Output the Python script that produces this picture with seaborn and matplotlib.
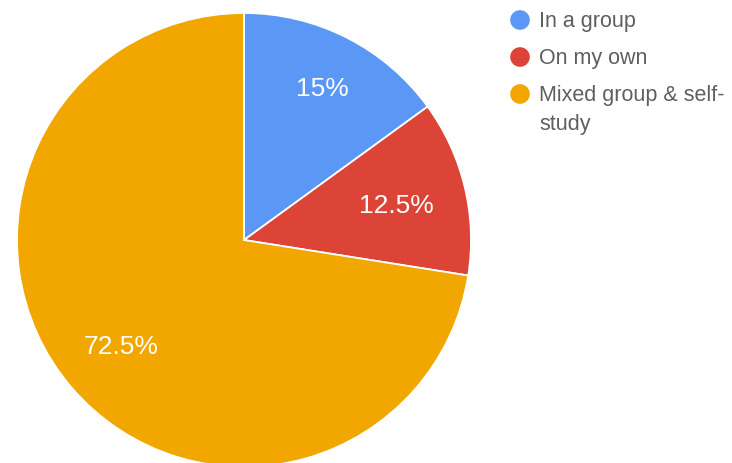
import numpy as np
import matplotlib
matplotlib.use("Agg")
import matplotlib.pyplot as plt
from matplotlib.transforms import ScaledTranslation
import seaborn as sns

# Survey answers: how people prefer to study
categories = ["In a group", "On my own", "Mixed group & self-\nstudy"]
shares = [15, 12.5, 72.5]
colors = ["#5b97f5", "#db4437", "#f1a700"]

# radial position of each percentage label (fraction of the radius)
label_radius = [0.76, 0.69, 0.71]

sns.set_theme(style="white")
plt.rcParams["font.family"] = ["Liberation Sans", "DejaVu Sans"]

W, H = 732, 463
fig = plt.figure(figsize=(W / 100, H / 100), dpi=100)
fig.patch.set_facecolor("white")

# pie axes, laid out in pixels
cx, cy, r = 244, 240, 227
ax = fig.add_axes([(cx - r) / W, (H - cy - r) / H, 2 * r / W, 2 * r / H])
wedges, _ = ax.pie(
    shares,
    colors=colors,
    startangle=90,
    counterclock=False,
    wedgeprops=dict(edgecolor="white", linewidth=1.3),
)
ax.set_xlim(-1, 1)
ax.set_ylim(-1, 1)
ax.set_aspect("equal")
ax.axis("off")

for w, v, rf in zip(wedges, shares, label_radius):
    mid = np.deg2rad((w.theta1 + w.theta2) / 2)
    ax.text(rf * np.cos(mid), rf * np.sin(mid), f"{v:g}%",
            ha="center", va="center", color="white", fontsize=19,
            transform=ax.transData + ScaledTranslation(0, -2.5 / 100, fig.dpi_scale_trans))

# legend drawn on a pixel-space overlay
lg = fig.add_axes([0, 0, 1, 1], facecolor="none")
lg.set_xlim(0, W)
lg.set_ylim(H, 0)
lg.axis("off")
row_y = [20, 57, 94]
for y, cat, col in zip(row_y, categories, colors):
    lg.scatter([520], [y], s=200, color=col, edgecolors="none")
    lg.text(539, y, cat, ha="left", va="top", color="#5f5f5f",
            fontsize=15.5, linespacing=1.5,
            transform=lg.transData + ScaledTranslation(0, 9 / 100, fig.dpi_scale_trans))

fig.savefig("out.png", dpi=100, facecolor="white")
